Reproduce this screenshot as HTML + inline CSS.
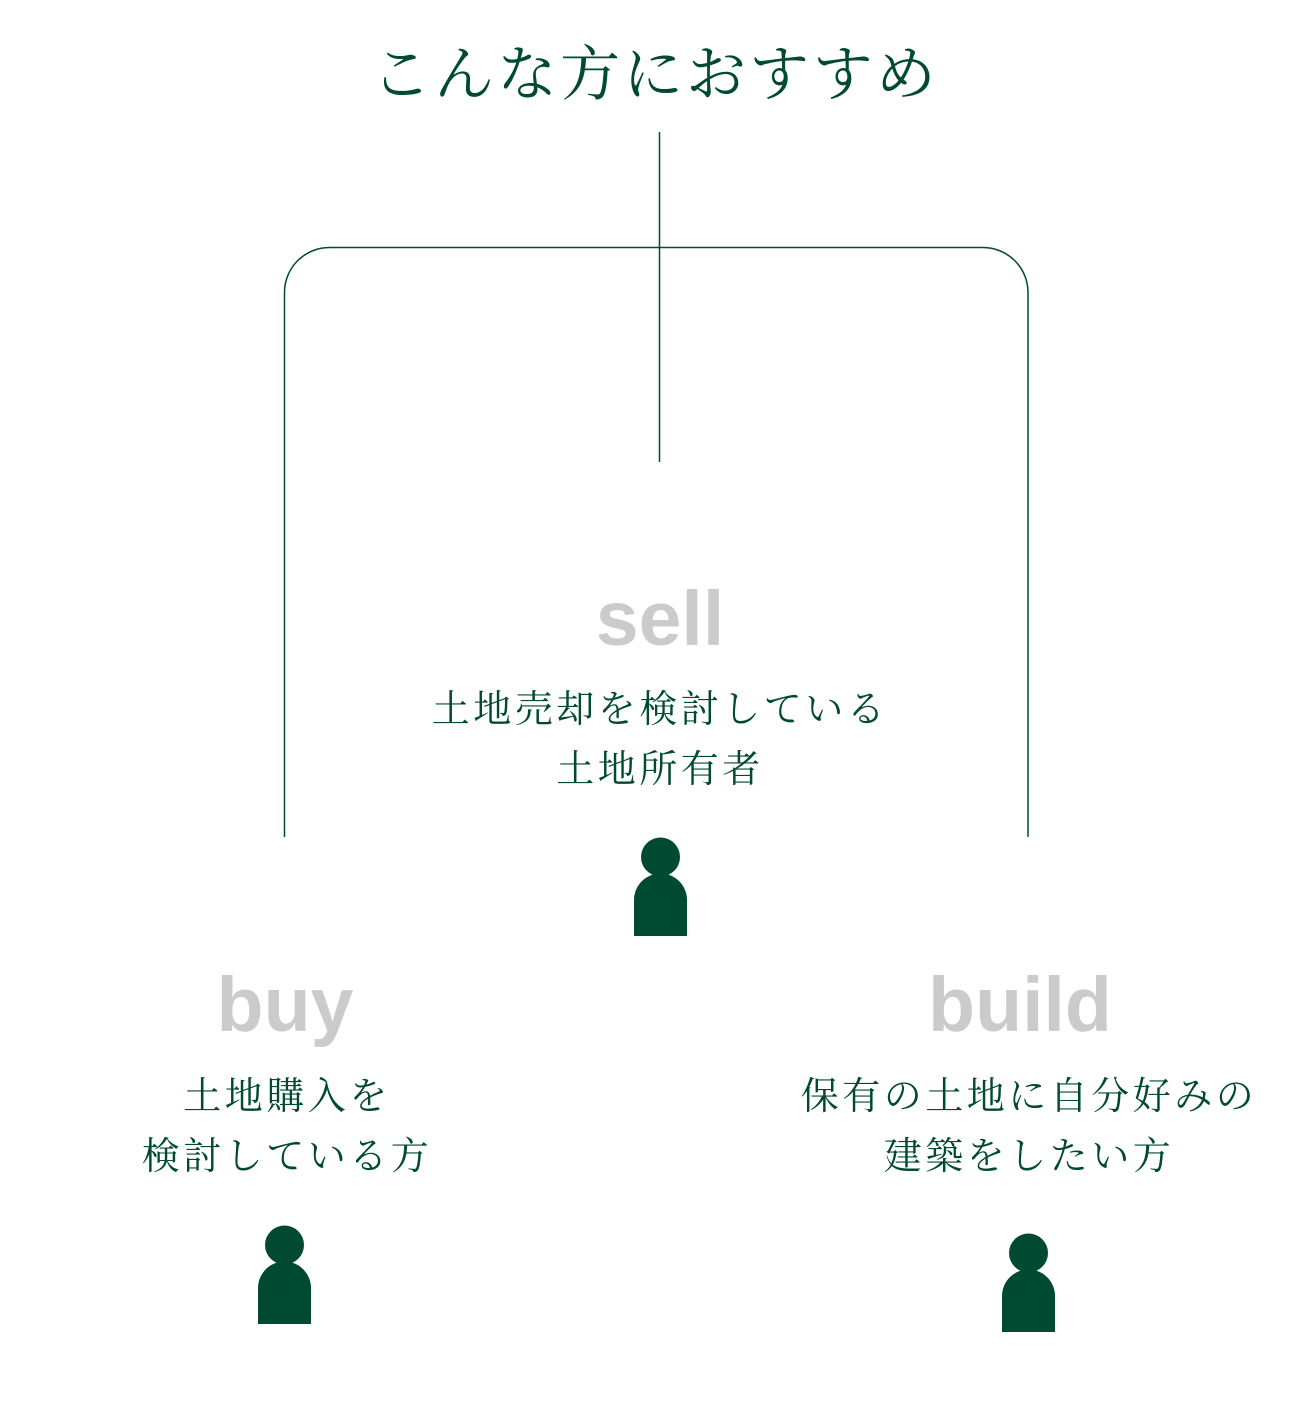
<!DOCTYPE html>
<html><head><meta charset="utf-8"><style>
html,body{margin:0;padding:0;background:#fff;}
svg{display:block}
.jp{font-family:"Liberation Serif","Noto Serif CJK SC",serif;fill:#004a32;}
.en{font-family:"Liberation Sans",sans-serif;font-weight:bold;fill:#cbcbcb;font-size:77px;}
</style></head><body>
<svg width="1313" height="1409" viewBox="0 0 1313 1409" xmlns="http://www.w3.org/2000/svg">
<text class="jp" x="655" y="95" text-anchor="middle" font-size="60" letter-spacing="3">こんな方におすすめ</text>
<g fill="none" stroke="#004a32" stroke-width="1.5">
<line x1="659.5" y1="132" x2="659.5" y2="462"/>
<path d="M284.5 837 V292 A45 45 0 0 1 329.5 247.5 H983 A45 45 0 0 1 1028 292 V837"/>
</g>
<text class="en" x="660" y="645" text-anchor="middle">sell</text>
<text class="jp" x="660" y="722" text-anchor="middle" font-size="38" letter-spacing="3.5">土地売却を検討している</text>
<text class="jp" x="660" y="782" text-anchor="middle" font-size="38" letter-spacing="3.5">土地所有者</text>
<text class="en" x="285" y="1031" text-anchor="middle">buy</text>
<text class="jp" x="287" y="1109" text-anchor="middle" font-size="38" letter-spacing="3.5">土地購入を</text>
<text class="jp" x="287" y="1169" text-anchor="middle" font-size="38" letter-spacing="3.5">検討している方</text>
<text class="en" x="1020" y="1031" text-anchor="middle">build</text>
<text class="jp" x="1029" y="1109" text-anchor="middle" font-size="38" letter-spacing="3.5">保有の土地に自分好みの</text>
<text class="jp" x="1029" y="1169" text-anchor="middle" font-size="38" letter-spacing="3.5">建築をしたい方</text>
<g fill="#004a32">
<circle cx="660.5" cy="857" r="19.5"/>
<path d="M634 936 V900 A26.5 26.5 0 0 1 687 900 V936 Z"/>
<circle cx="284.5" cy="1245" r="19.5"/>
<path d="M258 1324 V1288 A26.5 26.5 0 0 1 311 1288 V1324 Z"/>
<circle cx="1028.5" cy="1253" r="19.5"/>
<path d="M1002 1332 V1296 A26.5 26.5 0 0 1 1055 1296 V1332 Z"/>
</g>
</svg>
</body></html>
